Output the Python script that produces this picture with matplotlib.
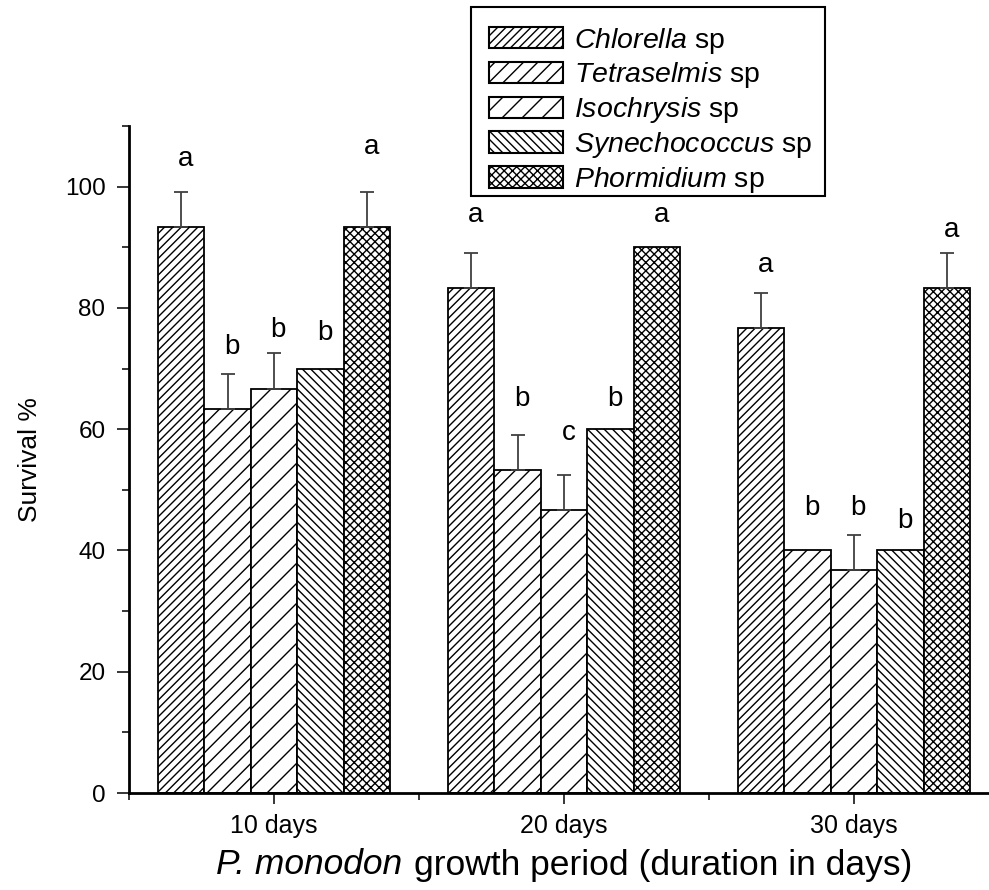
import matplotlib
matplotlib.use("Agg")
import matplotlib.pyplot as plt
import matplotlib.hatch as mhatch
from matplotlib.path import Path
from matplotlib.patches import Rectangle
from matplotlib.offsetbox import TextArea, HPacker, AnchoredOffsetbox
import numpy as np
from matplotlib.ticker import MultipleLocator, FixedLocator

plt.rcParams['font.family'] = ['Liberation Sans', 'DejaVu Sans']
plt.rcParams['mathtext.fontset'] = 'custom'
plt.rcParams['mathtext.rm'] = 'Liberation Sans'
plt.rcParams['mathtext.it'] = 'Liberation Sans:italic'
plt.rcParams['hatch.linewidth'] = 1.0


# sparse north-east hatch: 2 lines per 'n' character
class SparseNEHatch(mhatch.HatchPatternBase):
    def __init__(self, hatch, density):
        self.num_lines = int(hatch.count('n') * 2)
        self.num_vertices = (self.num_lines + 1) * 2 if self.num_lines else 0

    def set_vertices_and_codes(self, vertices, codes):
        steps = np.linspace(-0.5, 0.5, self.num_lines + 1)
        vertices[0::2, 0] = 0.0 + steps
        vertices[0::2, 1] = 0.0 - steps
        vertices[1::2, 0] = 1.0 + steps
        vertices[1::2, 1] = 1.0 - steps
        codes[0::2] = Path.MOVETO
        codes[1::2] = Path.LINETO


mhatch._hatch_types.append(SparseNEHatch)
mhatch._validate_hatch_pattern = lambda h: None

groups = ["10 days", "20 days", "30 days"]
species = ["Chlorella", "Tetraselmis", "Isochrysis", "Synechococcus", "Phormidium"]
hatches = ["////", "nnnnnnn", "nnnnn", "\\\\\\\\", "xxxx"]

chlorella = [93.3, 83.3, 76.7]
tetraselmis = [63.3, 53.3, 40.0]
isochrysis = [66.7, 46.7, 36.7]
synechococcus = [70.0, 60.0, 40.0]
phormidium = [93.3, 90.0, 83.3]
values = [chlorella, tetraselmis, isochrysis, synechococcus, phormidium]

err_chlorella = [5.8, 5.8, 5.8]
err_tetraselmis = [5.8, 5.8, 0.0]
err_isochrysis = [5.8, 5.8, 5.8]
err_synechococcus = [0.0, 0.0, 0.0]
err_phormidium = [5.8, 0.0, 5.8]
errors = [err_chlorella, err_tetraselmis, err_isochrysis, err_synechococcus, err_phormidium]

letters = [["a", "a", "a"], ["b", "b", "b"], ["b", "c", "b"], ["b", "b", "b"], ["a", "a", "a"]]
letter_y = [[104.5, 95.4, 87.1], [73.6, 64.9, 47.0], [76.4, 59.4, 47.0], [75.9, 64.9, 44.9], [106.6, 95.4, 92.9]]

fig = plt.figure(figsize=(9.89, 8.9), dpi=100)
ax = fig.add_axes([129/989, 1-793/890, 1-129/989, (793-126)/890])

x = np.arange(1, 4)
w = 0.16
for i in range(5):
    pos = x + (i - 2) * w
    ax.bar(pos, values[i], width=w, color="white", edgecolor="black", hatch=hatches[i],
           linewidth=1.3, label=f"$\\it{{{species[i]}}}$ sp", zorder=2)
    e = np.array(errors[i])
    mask = e > 0
    ax.errorbar(pos[mask], np.array(values[i])[mask], yerr=[np.zeros(mask.sum()), e[mask]],
                fmt="none", ecolor="#404040", elinewidth=1.3, capsize=4.7, capthick=1.3, zorder=3)
    for j in range(3):
        ax.text(pos[j] + 0.015, letter_y[i][j], letters[i][j], ha="center", va="center", fontsize=20)

ax.set_xlim(0.5, 0.5 + (989-129)/290)
ax.set_ylim(0, 110)
ax.spines["top"].set_visible(False)
ax.spines["right"].set_visible(False)
ax.spines["left"].set_linewidth(2)
ax.spines["bottom"].set_linewidth(2)
ax.set_xticks(x)
ax.set_xticklabels(groups, fontsize=18)
ax.xaxis.set_minor_locator(FixedLocator([0.5, 1.5, 2.5, 3.5]))
ax.yaxis.set_major_locator(MultipleLocator(20))
ax.yaxis.set_minor_locator(MultipleLocator(10))
ax.tick_params(axis="both", which="both", direction="out", width=1.1)
ax.tick_params(axis="x", which="major", length=8, pad=7)
ax.tick_params(axis="x", which="minor", length=5)
ax.tick_params(axis="y", which="major", length=9, labelsize=17.5, pad=8)
ax.tick_params(axis="y", which="minor", length=5)
ax.set_ylabel("Survival %", fontsize=19, labelpad=16)

# x-axis title: italic species name + regular text
xl_it = TextArea("P. monodon", textprops=dict(fontsize=25.5, style="italic"))
xl_rm = TextArea("growth period (duration in days)", textprops=dict(fontsize=25.5))
xl = HPacker(children=[xl_it, xl_rm], align="baseline", pad=0, sep=9)
xl_box = AnchoredOffsetbox(loc="center", child=xl, pad=0, borderpad=0, frameon=False,
                           bbox_to_anchor=(564/989, 1 - 865/890), bbox_transform=fig.transFigure)
fig.add_artist(xl_box)

leg = ax.legend(loc="upper left", bbox_to_anchor=(470/989, 1 - 7/890), bbox_transform=fig.transFigure,
                fontsize=20.5, frameon=False,
                handlelength=2.6, handleheight=0.77, labelspacing=0.17, borderpad=0.65,
                handletextpad=0.4, borderaxespad=0)
for p in leg.get_patches():
    p.set_linewidth(1.5)

frame = Rectangle((471/989, 1 - 196/890), (825 - 471)/989, (196 - 7)/890,
                  transform=fig.transFigure, fill=True, facecolor="white",
                  edgecolor="black", linewidth=1.5, zorder=4)
fig.add_artist(frame)
leg.set_zorder(5)
fig.add_artist(leg)

fig.savefig("out.png", dpi=100, facecolor="white")
